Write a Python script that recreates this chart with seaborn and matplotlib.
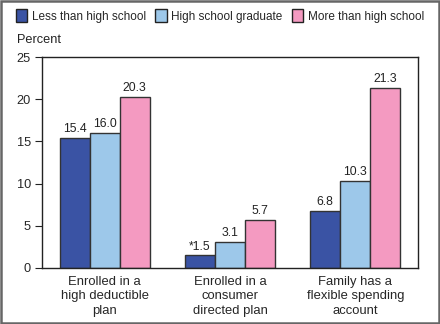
import matplotlib
matplotlib.use("Agg")
import matplotlib.pyplot as plt
import seaborn as sns
import pandas as pd
from matplotlib.patches import Patch, Rectangle

categories = ["Enrolled in a\nhigh deductible\nplan",
              "Enrolled in a\nconsumer\ndirected plan",
              "Family has a\nflexible spending\naccount"]
series = ["Less than high school", "High school graduate", "More than high school"]
less_hs = [15.4, 1.5, 6.8]
hs_grad = [16.0, 3.1, 10.3]
more_hs = [20.3, 5.7, 21.3]
value_labels = [["15.4", "*1.5", "6.8"], ["16.0", "3.1", "10.3"], ["20.3", "5.7", "21.3"]]
colors = ["#3A53A4", "#9DC8EA", "#F49AC1"]

rows = []
for s, vals in zip(series, [less_hs, hs_grad, more_hs]):
    for c, v in zip(categories, vals):
        rows.append({"cat": c, "series": s, "value": v})
df = pd.DataFrame(rows)

sns.set_style("white")
plt.rcParams["font.family"] = ["Liberation Sans", "DejaVu Sans"]

fig = plt.figure(figsize=(4.4, 3.24), dpi=100)
ax = fig.add_axes([42/440, 1-268/324, 376/440, 211/324])
sns.barplot(data=df, x="cat", y="value", hue="series", palette=colors,
            width=0.72, edgecolor="#333333", linewidth=1, ax=ax, legend=False,
            saturation=1)

for cont, labs in zip(ax.containers, value_labels):
    ax.bar_label(cont, labels=labs, padding=2, fontsize=8.8, color="#222222")

ax.set_ylim(0, 25)
ax.set_xlim(-0.5, 2.5)
ax.set_yticks([0, 5, 10, 15, 20, 25])
ax.set_xlabel("")
ax.set_ylabel("")
ax.tick_params(axis="y", left=True, length=5, width=0.8, color="#222222", labelsize=9.2, pad=3)
ax.tick_params(axis="x", bottom=False, labelsize=9.4, pad=2)
for lab in ax.get_xticklabels():
    lab.set_linespacing(1.3)
for sp in ax.spines.values():
    sp.set_color("#222222")
    sp.set_linewidth(1)

fig.text(17/440, 1-40/324, "Percent", fontsize=9.2, va="center", ha="left", color="#222222")

handles = [Patch(facecolor=c, edgecolor="#222222", linewidth=1) for c in colors]
fig.legend(handles, series, loc="center", bbox_to_anchor=(0.5, 1-16/324), ncol=3,
           frameon=False, fontsize=8.5, handlelength=0.95, handleheight=1.3,
           handletextpad=0.4, columnspacing=0.8, borderaxespad=0)

fig.patches.append(Rectangle((0.002, 0.003), 0.995, 0.993, transform=fig.transFigure,
                             fill=False, edgecolor="#666666", linewidth=1.8))

fig.savefig("out.png", dpi=100)
